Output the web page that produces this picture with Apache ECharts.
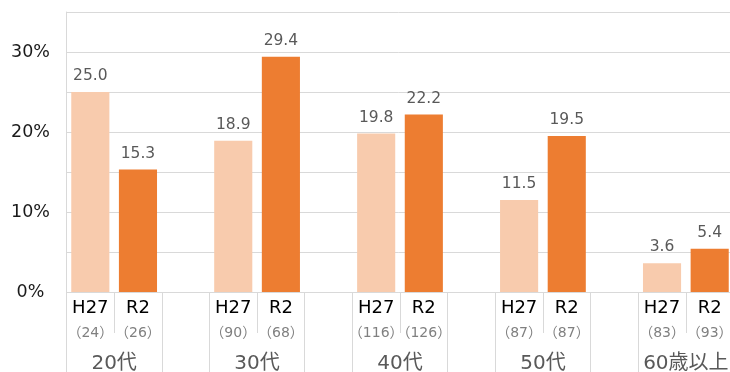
<!DOCTYPE html>
<html>
<head>
<meta charset="utf-8">
<script src="https://cdn.jsdelivr.net/npm/echarts@6/dist/echarts.min.js"></script>
<style>
  html, body { margin: 0; padding: 0; background: #fff; }
  #chart { width: 730px; height: 372px; }
</style>
</head>
<body>
<div id="chart"></div>
<script>
// Age groups and survey years
const groups = ['20代', '30代', '40代', '50代', '60歳以上'];
const years = ['H27', 'R2'];
// Share (%) per age group
const valuesH27 = [25.0, 18.9, 19.8, 11.5, 3.6];
const valuesR2 = [15.3, 29.4, 22.2, 19.5, 5.4];
// Respondents per age group
const countsH27 = [24, 90, 116, 87, 83];
const countsR2 = [26, 68, 126, 87, 93];
// Y axis ticks
const yTicks = [0, 10, 20, 30];

const FONT = '"DejaVu Sans", "Noto Sans CJK JP", sans-serif';
const GRID_LINE = '#d9d9d9';

// Each group takes three slots on the category axis: H27, R2 and an empty spacer
const categories = [];
const dataH27 = [];
const dataR2 = [];
const slotInfo = [];
groups.forEach((g, i) => {
  categories.push(g + '-' + years[0]);
  slotInfo.push({ year: years[0], n: countsH27[i] });
  dataH27.push(valuesH27[i]);
  dataR2.push(null);

  categories.push(g + '-' + years[1]);
  slotInfo.push({ year: years[1], n: countsR2[i] });
  dataH27.push(null);
  dataR2.push(valuesR2[i]);

  if (i < groups.length - 1) {
    categories.push(g + '-gap');
    slotInfo.push(null);
    dataH27.push(null);
    dataR2.push(null);
  }
});
const slotCount = categories.length;

const chart = echarts.init(document.getElementById('chart'), null, { renderer: 'canvas' });

const barLabel = {
  show: true,
  position: 'top',
  distance: 8,
  color: '#595959',
  fontFamily: FONT,
  fontSize: 15.5,
  formatter: p => (p.value == null ? '' : Number(p.value).toFixed(1))
};

chart.setOption({
  animation: false,
  backgroundColor: '#fff',
  // the plot runs a little past the right edge of the canvas
  grid: {
    left: 66.5, top: 12, width: 667, height: 280,
    containLabel: false,
    outerBoundsMode: 'none'
  },
  yAxis: {
    type: 'value',
    min: 0,
    max: 35,
    interval: 5,
    axisLine: { show: true, lineStyle: { color: GRID_LINE, width: 1 } },
    axisTick: { show: false },
    splitLine: { show: true, lineStyle: { color: GRID_LINE, width: 1 } },
    axisLabel: {
      align: 'center',
      margin: 36,
      color: '#1a1a1a',
      fontFamily: FONT,
      fontSize: 17.5,
      formatter: v => (yTicks.indexOf(v) >= 0 ? v + '%' : '')
    }
  },
  xAxis: [
    {
      // Year labels with respondent counts, short divider between the two years
      type: 'category',
      position: 'bottom',
      data: categories,
      axisLine: { show: true, lineStyle: { color: GRID_LINE } },
      axisTick: {
        show: true,
        length: 41,
        lineStyle: { color: GRID_LINE },
        interval: idx => idx % 3 === 1
      },
      axisLabel: {
        interval: 0,
        margin: 5,
        formatter: (v, idx) => {
          const s = slotInfo[idx];
          if (!s) return '';
          return '{y|' + s.year + '}\n{n|（' + s.n + '）}';
        },
        rich: {
          y: { fontFamily: FONT, fontSize: 18, lineHeight: 22, color: '#000' },
          n: { fontFamily: FONT, fontSize: 14, lineHeight: 28, color: '#808080' }
        }
      }
    },
    {
      // Full-height dividers around each age group
      type: 'category',
      position: 'bottom',
      data: categories,
      axisLine: { show: false },
      axisTick: {
        show: true,
        length: 90,
        lineStyle: { color: GRID_LINE },
        interval: idx => idx % 3 !== 1
      },
      axisLabel: { show: false }
    },
    {
      // Age group labels, centred under each pair of bars
      type: 'value',
      position: 'bottom',
      min: 0,
      max: slotCount,
      interval: 1,
      axisLine: { show: false },
      axisTick: { show: false },
      splitLine: { show: false },
      axisLabel: {
        margin: 62,
        color: '#595959',
        fontFamily: FONT,
        fontSize: 20,
        showMinLabel: true,
        showMaxLabel: true,
        formatter: v => (v % 3 === 1 ? groups[(v - 1) / 3] : '')
      }
    }
  ],
  series: [
    {
      name: years[0],
      type: 'bar',
      xAxisIndex: 0,
      data: dataH27,
      barWidth: '80%',
      barGap: '-100%',
      itemStyle: { color: '#F8CBAD' },
      label: barLabel
    },
    {
      name: years[1],
      type: 'bar',
      xAxisIndex: 0,
      data: dataR2,
      barWidth: '80%',
      barGap: '-100%',
      itemStyle: { color: '#ED7D31' },
      label: barLabel
    }
  ]
});
</script>
</body>
</html>
